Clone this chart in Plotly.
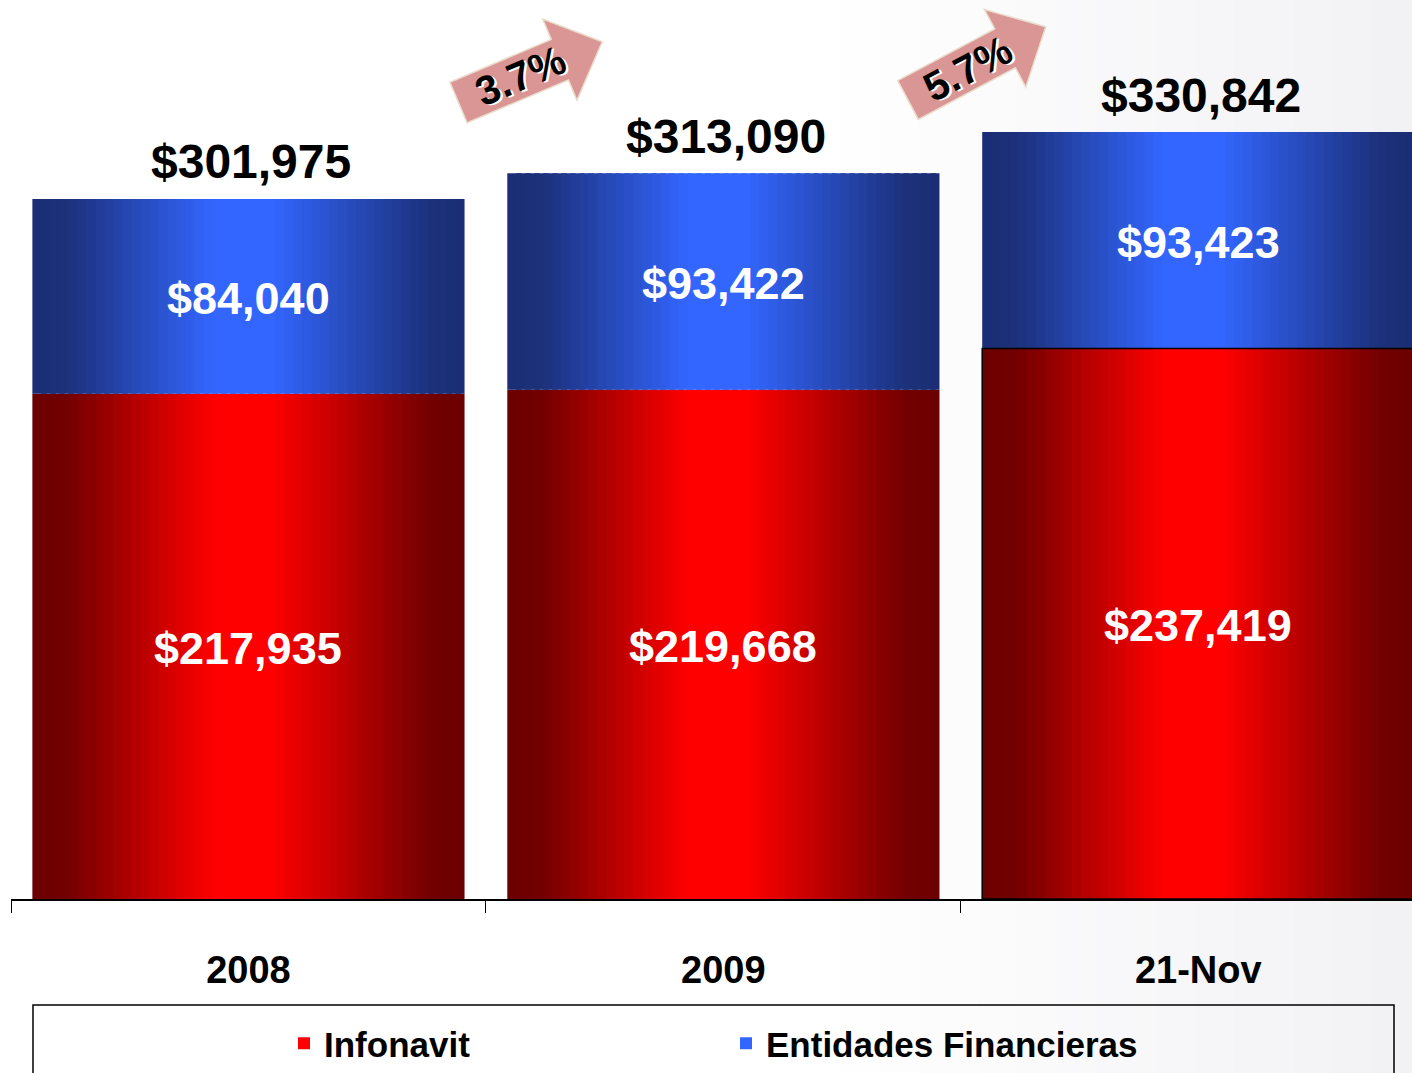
import math
import numpy as np
import plotly.graph_objects as go

categories = ["2008", "2009", "21-Nov"]
infonavit = [217935, 219668, 237419]
entidades = [84040, 93422, 93423]
totals = [301975, 313090, 330842]

W, H = 1412, 1073
ML, MR, MT, MB = 11, 0, 0, 174
PW, PH = W - ML - MR, H - MT - MB
Y_MAX = 387800
BAR_W = 0.91
N_SLICES = 48

ARIAL = "Liberation Sans, Arial, sans-serif"

RED_DARK, RED_BRIGHT = (0x6b, 0x00, 0x00), (0xff, 0x00, 0x00)
BLUE_DARK, BLUE_BRIGHT = (0x1b, 0x2e, 0x74), (0x33, 0x66, 0xff)


def mix(c1, c2, t):
    return "#%02x%02x%02x" % tuple(round(a + (b - a) * t) for a, b in zip(c1, c2))


def glow(t):
    # brightness across a bar: dark edges, bright middle
    xp = [0, 0.08, 0.42, 0.55, 0.92, 1]
    fp = [0, 0.05, 1, 1, 0.05, 0]
    return float(np.interp(t, xp, fp))


def to_paper(px, py):
    return (px - ML) / PW, (MT + PH - py) / PH


def arrow_path(cx, cy, angle, length=156, shaft=22, head_w=44, head_len=46):
    a = math.radians(angle)
    ux, uy = math.cos(a), -math.sin(a)
    vx, vy = math.sin(a), math.cos(a)
    local = [(0, -shaft), (length - head_len, -shaft), (length - head_len, -head_w),
             (length, 0), (length - head_len, head_w), (length - head_len, shaft), (0, shaft)]
    pts = [to_paper(cx + u * ux + v * vx, cy + u * uy + v * vy) for u, v in local]
    return "M " + " L ".join(f"{x:.5f},{y:.5f}" for x, y in pts) + " Z"


fig = go.Figure()

step = BAR_W / N_SLICES
series = [
    ("Infonavit", infonavit, [0] * len(infonavit), RED_DARK, RED_BRIGHT),
    ("Entidades Financieras", entidades, infonavit, BLUE_DARK, BLUE_BRIGHT),
]
for name, vals, base, dark, bright in series:
    for i in range(N_SLICES):
        t = (i + 0.5) / N_SLICES
        fig.add_trace(go.Bar(
            x=categories,
            y=vals,
            base=base,
            name=name,
            legendgroup=name,
            showlegend=(i == N_SLICES // 2),
            width=step * 1.6 if i < N_SLICES - 1 else step,
            offset=-BAR_W / 2 + i * step,
            marker=dict(color=mix(dark, bright, glow(t)), line=dict(width=0)),
            hoverinfo="skip",
        ))

# thin outline on the last red bar
fig.add_trace(go.Bar(
    x=categories[2:], y=infonavit[2:], width=BAR_W, offset=-BAR_W / 2,
    marker=dict(color="rgba(0,0,0,0)", line=dict(color="black", width=1.5)),
    showlegend=False, hoverinfo="skip",
))

# segment labels
for vals, base in [(infonavit, [0] * 3), (entidades, infonavit)]:
    for i, (b, v) in enumerate(zip(base, vals)):
        fig.add_annotation(
            x=i, y=b + v / 2, text=f"${v:,}", showarrow=False, yshift=-2,
            font=dict(family=ARIAL, size=45, color="white", weight="bold"),
        )

for i, tot in enumerate(totals):
    fig.add_annotation(
        x=i, y=tot, text=f"${tot:,}", showarrow=False, yshift=37, xshift=3,
        font=dict(family=ARIAL, size=48, color="black", weight="bold"),
    )

# growth arrows
arrows = [(458.5, 102.5, 22.9), (908, 100, 28)]
for k, (cx, cy, ang) in enumerate(arrows):
    fig.add_shape(
        type="path", xref="paper", yref="paper", path=arrow_path(cx, cy, ang),
        fillcolor="#d99694", line=dict(color="#eadccb", width=1.5),
    )
    growth = (totals[k + 1] / totals[k] - 1) * 100
    a = math.radians(ang)
    tx, ty = to_paper(cx + 67 * math.cos(a), cy - 67 * math.sin(a))
    fig.add_annotation(
        x=tx, y=ty, xref="paper", yref="paper", text=f"{growth:.1f}%",
        xanchor="center", yanchor="middle",
        showarrow=False, textangle=-ang,
        font=dict(family=ARIAL, size=41, color="black", weight="bold",
                  shadow="2px 2px 0px #ffffff"),
    )

# faint background shading on the right
n_strip = 30
for k in range(n_strip):
    x0, _ = to_paper(820 + k * (W - 820) / n_strip, 0)
    x1, _ = to_paper(820 + (k + 1) * (W - 820) / n_strip + 1, 0)
    fig.add_shape(
        type="rect", xref="paper", yref="paper", x0=x0, x1=x1, y0=-0.3, y1=1.0,
        fillcolor=mix((255, 255, 255), (0xf2, 0xf2, 0xf5), (k + 1) / n_strip),
        line=dict(width=0), layer="below",
    )

# legend frame
lx0, ly0 = to_paper(33, 1005)
lx1, ly1 = to_paper(1394, 1090)
fig.add_shape(type="rect", xref="paper", yref="paper", x0=lx0, x1=lx1, y0=ly1, y1=ly0,
              line=dict(color="black", width=1.5), fillcolor="rgba(0,0,0,0)")

leg_x, leg_y = to_paper(284, 1044)
fig.update_layout(
    width=W,
    height=H,
    margin=dict(l=ML, r=MR, t=MT, b=MB),
    barmode="overlay",
    paper_bgcolor="white",
    plot_bgcolor="rgba(0,0,0,0)",
    showlegend=True,
    legend=dict(
        orientation="h", x=leg_x, y=leg_y, xanchor="left", yanchor="middle",
        entrywidth=397, entrywidthmode="pixels",
        font=dict(family=ARIAL, size=35, color="black", weight="bold"),
        bgcolor="rgba(0,0,0,0)", traceorder="normal",
    ),
    xaxis=dict(
        type="category", range=[-0.5, 2.45], showline=True, linecolor="black", linewidth=2,
        ticks="outside", tickson="boundaries", ticklen=12, tickcolor="black", tickwidth=1,
        tickfont=dict(family=ARIAL, size=38, color="black", weight="bold"),
        ticklabelstandoff=36, showgrid=False, zeroline=False,
    ),
    yaxis=dict(range=[0, Y_MAX], visible=False, showgrid=False, zeroline=False),
)

fig.write_html(
    "out.html",
    config={"displayModeBar": False},
    post_script="document.body.style.margin='0px';",
)
